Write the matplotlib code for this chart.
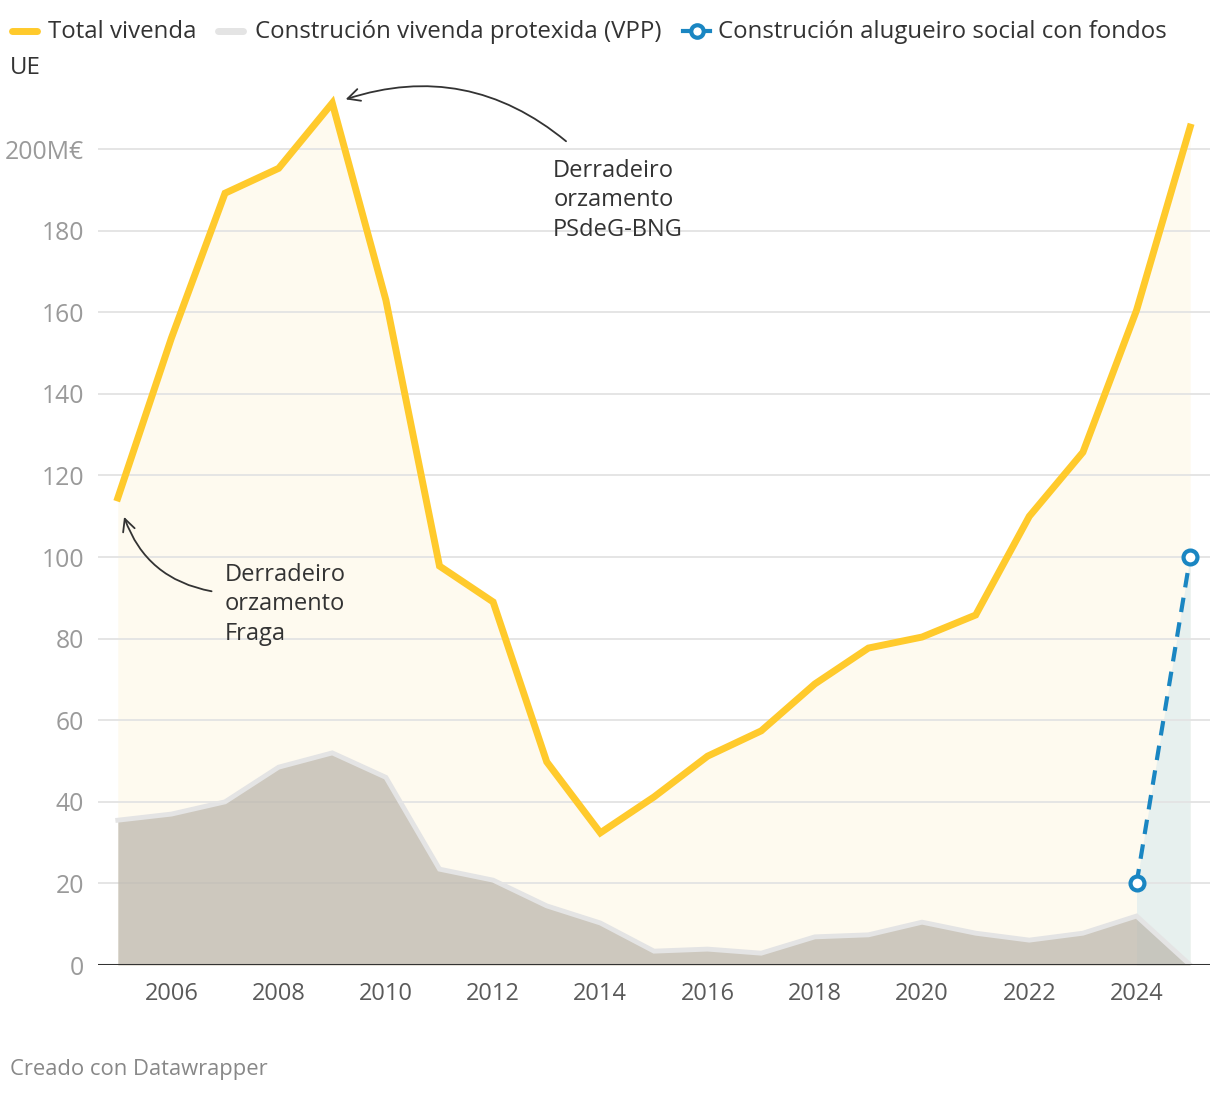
import matplotlib.pyplot as plt
from matplotlib.lines import Line2D

plt.rcParams['font.family'] = ['Open Sans', 'DejaVu Sans']

# data (M€)
years = list(range(2005, 2026))
total = [114.5, 153.7, 189.2, 195.3, 211.3, 163.0, 97.8, 89.0, 49.8, 32.4, 41.2,
         51.2, 57.4, 68.9, 77.7, 80.4, 85.8, 110.0, 125.7, 160.5, 205.4]
vpp = [35.5, 37.0, 40.0, 48.5, 52.0, 46.0, 23.5, 20.8, 14.5, 10.3, 3.4,
       3.9, 2.9, 6.9, 7.4, 10.5, 7.8, 6.1, 7.8, 12.0, 0.0]
alug_years = [2024, 2025]
alug = [20.0, 100.0]
yticks = [0, 20, 40, 60, 80, 100, 120, 140, 160, 180, 200]
ytick_labels = ['0', '20', '40', '60', '80', '100', '120', '140', '160', '180', '200M€']
xticks = list(range(2006, 2026, 2))

yellow = '#ffca2c'
blue = '#1a86c2'

fig = plt.figure(figsize=(12.2, 10.94), dpi=100)
ax = fig.add_axes([0.0803, 0.1179, 0.9115, 0.8017])

ax.fill_between(years, 0, total, color='#fefaef', lw=0, zorder=1)
ax.fill_between(alug_years, 0, alug, color='#e7f0ee', lw=0, zorder=2)
ax.fill_between(years, 0, vpp, color='#bdb8ae', alpha=0.75, lw=0, zorder=4)
ax.plot(years, vpp, color='#e4e4e4', lw=3.5, zorder=5, solid_joinstyle='miter')
ax.plot(years, total, color=yellow, lw=5, zorder=6, solid_joinstyle='miter')
ax.plot(alug_years, alug, color=blue, lw=3, ls=(0, (3.5, 2.5)), zorder=7)
ax.plot(alug_years, alug, 'o', ms=10, mfc='white', mec=blue, mew=3, zorder=8)

for yv in yticks[1:]:
    ax.axhline(yv, color='#e3e3e3', lw=1.3, zorder=3)
ax.axhline(0, color='#333333', lw=2.2, zorder=9)

ax.set_xlim(2004.63, 2025.37)
ax.set_ylim(0, 215)
ax.set_yticks(yticks)
ax.set_yticklabels(ytick_labels)
ax.set_xticks(xticks)
ax.tick_params(axis='y', length=0, labelsize=17.8, labelcolor='#9a9a9a', pad=10)
ax.tick_params(axis='x', length=0, labelsize=17, labelcolor='#5a5a5a', pad=12)
for s in ax.spines.values():
    s.set_visible(False)

# annotations
ax.annotate('', xy=(2009.2, 212), xytext=(2013.4, 201.5),
            arrowprops=dict(arrowstyle='->', color='#333333', lw=1.3,
                            connectionstyle='arc3,rad=0.28', mutation_scale=22))
ax.text(2013.12, 197.6, 'Derradeiro\norzamento\nPSdeG-BNG', fontsize=17,
        color='#333333', va='top', ha='left', linespacing=1.3)
ax.annotate('', xy=(2005.1, 110.5), xytext=(2006.8, 91.5),
            arrowprops=dict(arrowstyle='->', color='#333333', lw=1.3,
                            connectionstyle='arc3,rad=-0.3', mutation_scale=22))
ax.text(2007.0, 98.6, 'Derradeiro\norzamento\nFraga', fontsize=17,
        color='#333333', va='top', ha='left', linespacing=1.3)

# legend
def fx(px):
    return px / 1220

def fy(py):
    return 1 - py / 1094

fig.add_artist(Line2D([fx(12), fx(37)], [fy(31), fy(31)], color=yellow, lw=5,
                      solid_capstyle='round'))
fig.text(fx(48), fy(32), 'Total vivenda', fontsize=17.3, color='#333333', va='center')
fig.add_artist(Line2D([fx(218), fx(243)], [fy(31), fy(31)], color='#e4e4e4', lw=5,
                      solid_capstyle='round'))
fig.text(fx(255), fy(32), 'Construción vivenda protexida (VPP)', fontsize=17.3,
         color='#333333', va='center')
fig.add_artist(Line2D([fx(683), fx(710)], [fy(31), fy(31)], color=blue, lw=3))
fig.add_artist(Line2D([fx(696.5)], [fy(31)], marker='o', ms=9, mfc='white',
                      mec=blue, mew=3))
fig.text(fx(718), fy(32), 'Construción alugueiro social con fondos', fontsize=17.3,
         color='#333333', va='center')
fig.text(fx(10), fy(68), 'UE', fontsize=17.3, color='#333333', va='center')
fig.text(fx(10), fy(1069), 'Creado con Datawrapper', fontsize=15.8, color='#888888',
         va='center')

fig.savefig('out.png', dpi=100, facecolor='white')
